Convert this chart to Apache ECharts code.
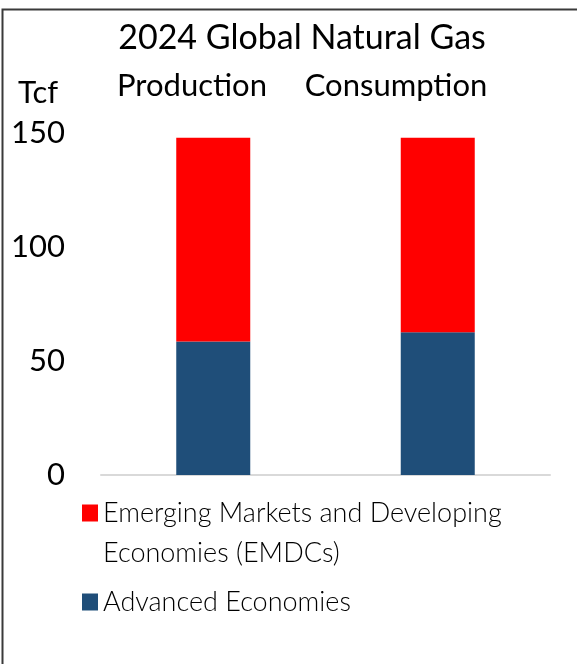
<!DOCTYPE html>
<html>
<head>
<meta charset="utf-8">
<script src="https://cdn.jsdelivr.net/npm/echarts@6/dist/echarts.min.js"></script>
<style>
  html, body { margin: 0; padding: 0; background: #fff; }
  #chart { width: 577px; height: 664px; }
</style>
</head>
<body>
<div id="chart"></div>
<script>
// 2024 global natural gas, trillion cubic feet
const categories = ['Production', 'Consumption'];
const advancedEconomies = [58.6, 62.6];
const emdcs = [89.3, 85.3];
const seriesNames = ['Advanced Economies', 'Emerging Markets and Developing Economies (EMDCs)'];
// the leading blank line keeps the swatch level with the first line of text
const legendLabels = {
  'Emerging Markets and Developing Economies (EMDCs)': '\nEmerging Markets and Developing\nEconomies (EMDCs)',
  'Advanced Economies': 'Advanced Economies'
};
const yTicks = { min: 0, max: 150, interval: 50 };
const titleText = '2024 Global Natural Gas';
const unitText = 'Tcf';

const FONT = 'Lato, "Open Sans", sans-serif';
const chart = echarts.init(document.getElementById('chart'));

// column headings sit above the bars, slightly left of each bar's centre
const headingX = [192, 396];

chart.setOption({
  backgroundColor: '#ffffff',
  animation: false,
  grid: { left: 101, right: 27, top: 133, bottom: 189 },
  xAxis: {
    type: 'category',
    data: categories,
    axisLine: { show: true, lineStyle: { color: '#d9d9d9', width: 2 } },
    axisTick: { show: false },
    axisLabel: { show: false },
    splitLine: { show: false }
  },
  yAxis: {
    type: 'value',
    min: yTicks.min,
    max: yTicks.max,
    interval: yTicks.interval,
    axisLine: { show: false },
    axisTick: { show: false },
    splitLine: { show: false },
    axisLabel: { margin: 36, fontFamily: FONT, fontSize: 31, color: '#000' }
  },
  legend: {
    orient: 'vertical',
    left: 82,
    top: 453,
    padding: 0,
    itemGap: 9,
    itemWidth: 16,
    itemHeight: 17,
    icon: 'rect',
    selectedMode: false,
    formatter: name => legendLabels[name],
    textStyle: { fontFamily: FONT, fontSize: 27, fontWeight: 300, color: '#000', lineHeight: 40 },
    data: [seriesNames[1], seriesNames[0]]
  },
  series: [
    {
      name: seriesNames[0],
      type: 'bar',
      stack: 'gas',
      barWidth: 74,
      itemStyle: { color: '#1f4e79' },
      data: advancedEconomies
    },
    {
      name: seriesNames[1],
      type: 'bar',
      stack: 'gas',
      barWidth: 74,
      itemStyle: { color: '#ff0000' },
      data: emdcs
    }
  ],
  graphic: [
    {
      type: 'rect',
      left: 0, top: 7,
      shape: { width: 620, height: 700 },
      style: { fill: 'none', stroke: '#3a3a3a', lineWidth: 2 },
      silent: true
    },
    {
      type: 'text',
      x: 302, y: 38,
      style: { text: titleText, font: '34px ' + FONT, fill: '#000', align: 'center', verticalAlign: 'middle' }
    },
    {
      type: 'text',
      x: 38, y: 93,
      style: { text: unitText, font: '31px ' + FONT, fill: '#000', align: 'center', verticalAlign: 'middle' }
    },
    ...categories.map((c, i) => ({
      type: 'text',
      x: headingX[i], y: 86,
      style: { text: c, font: '31px ' + FONT, fill: '#000', align: 'center', verticalAlign: 'middle' }
    }))
  ]
});
</script>
</body>
</html>
